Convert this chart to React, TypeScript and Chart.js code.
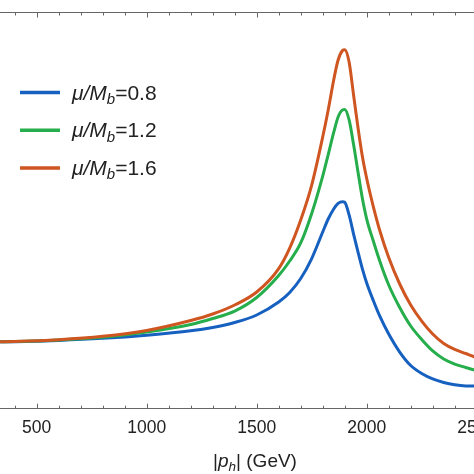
import { useEffect, useRef } from "react";
import Chart from "chart.js/auto";

// |p_h| in GeV
const momenta = [
  333, 400, 600, 800, 1000, 1200, 1300, 1400, 1500, 1600, 1650, 1700, 1750,
  1800, 1825, 1850, 1870, 1890, 1900, 1920, 1940, 1960, 1980, 2000, 2030,
  2060, 2100, 2150, 2200, 2250, 2300, 2350, 2400, 2450, 2500, 2600, 2670,
];

// arbitrary units
const muOver08 = [
  0.676, 0.677, 0.689, 0.71, 0.742, 0.786, 0.82, 0.87, 0.946, 1.077, 1.173,
  1.314, 1.516, 1.784, 1.915, 2.016, 2.072, 2.09, 2.084, 1.956, 1.766, 1.586,
  1.414, 1.269, 1.092, 0.931, 0.754, 0.572, 0.436, 0.355, 0.3, 0.264, 0.241,
  0.23, 0.229, 0.234, 0.241,
];
const muOver12 = [
  0.676, 0.678, 0.694, 0.721, 0.774, 0.85, 0.911, 0.986, 1.123, 1.345, 1.491,
  1.673, 1.971, 2.349, 2.566, 2.789, 2.945, 3.016, 3.02, 2.915, 2.672, 2.395,
  2.127, 1.915, 1.693, 1.486, 1.249, 1.022, 0.835, 0.699, 0.583, 0.502, 0.451,
  0.416, 0.386, 0.35, 0.33,
];
const muOver16 = [
  0.676, 0.679, 0.697, 0.731, 0.79, 0.89, 0.956, 1.047, 1.178, 1.415, 1.622,
  1.905, 2.258, 2.743, 3.016, 3.319, 3.52, 3.616, 3.625, 3.5, 3.172, 2.844,
  2.551, 2.324, 2.041, 1.794, 1.527, 1.259, 1.047, 0.885, 0.754, 0.658, 0.598,
  0.557, 0.517, 0.471, 0.446,
];

const ratios = ["0.8", "1.2", "1.6"];
const colors = ["#1660c0", "#25ae4b", "#cf5521"];
const tickValues = [500, 1000, 1500, 2000, 2500];

const X_MIN = 333.2;
const X_MAX = 2669.5;
const FONT = "'Liberation Sans', Arial, Helvetica, sans-serif";

type Piece = { t: string; italic?: boolean; size: number; dy?: number };

function drawPieces(ctx: CanvasRenderingContext2D, pieces: Piece[], x: number, y: number, align: "left" | "center") {
  const fontOf = (p: Piece) => `${p.italic ? "italic " : ""}${p.size}px ${FONT}`;
  let width = 0;
  for (const p of pieces) {
    ctx.font = fontOf(p);
    width += ctx.measureText(p.t).width;
  }
  let cx = align === "center" ? x - width / 2 : x;
  for (const p of pieces) {
    ctx.font = fontOf(p);
    ctx.fillText(p.t, cx, y + (p.dy || 0));
    cx += ctx.measureText(p.t).width;
  }
}

const frameTicks = {
  id: "frameTicks",
  afterDraw(chart: any) {
    const ctx = chart.ctx;
    const { top, bottom } = chart.chartArea;
    const xs = chart.scales.x;
    ctx.save();
    ctx.strokeStyle = "#666";
    ctx.lineWidth = 1;
    for (let v = 400; v <= 2600; v += 100) {
      const px = Math.round(xs.getPixelForValue(v)) + 0.5;
      const len = v % 500 === 0 ? 5 : 3;
      ctx.beginPath();
      ctx.moveTo(px, bottom);
      ctx.lineTo(px, bottom - len);
      ctx.moveTo(px, top);
      ctx.lineTo(px, top + len);
      ctx.stroke();
    }
    ctx.restore();
  },
};

const richText = {
  id: "richText",
  afterDraw(chart: any) {
    const ctx = chart.ctx;
    ctx.save();
    ctx.fillStyle = "#222";
    ctx.textBaseline = "alphabetic";

    // legend
    chart.data.datasets.forEach((ds: any, i: number) => {
      const y = 92.5 + i * 37.7;
      ctx.strokeStyle = ds.borderColor;
      ctx.lineWidth = 3.5;
      ctx.beginPath();
      ctx.moveTo(20, y);
      ctx.lineTo(60, y);
      ctx.stroke();
      drawPieces(
        ctx,
        [
          { t: "μ/M", italic: true, size: 21 },
          { t: "b", italic: true, size: 15, dy: 4.5 },
          { t: "=" + ds.ratio, size: 21 },
        ],
        72,
        y + 7,
        "left"
      );
    });

    // x axis title
    drawPieces(
      ctx,
      [
        { t: "|", size: 19 },
        { t: "p", italic: true, size: 19 },
        { t: "h", italic: true, size: 13.5, dy: 4 },
        { t: "| (GeV)", size: 19 },
      ],
      255,
      467,
      "center"
    );
    ctx.restore();
  },
};

export default function App() {
  const canvasRef = useRef<HTMLCanvasElement>(null);

  useEffect(() => {
    if (!canvasRef.current) return;
    const series = [muOver08, muOver12, muOver16];
    const chart = new Chart(canvasRef.current, {
      type: "line",
      data: {
        datasets: series.map((vals, i) => ({
          label: "μ/M_b=" + ratios[i],
          ratio: ratios[i],
          data: momenta.map((x, j) => ({ x, y: vals[j] })),
          borderColor: colors[i],
          borderWidth: 3,
          pointRadius: 0,
          fill: false,
          cubicInterpolationMode: "monotone",
          order: 2 - i,
        })) as any,
      },
      options: {
        animation: false,
        responsive: true,
        maintainAspectRatio: false,
        layout: { padding: 0 },
        events: [],
        plugins: {
          legend: { display: false },
          tooltip: { enabled: false },
        },
        scales: {
          x: {
            type: "linear",
            position: "bottom",
            min: X_MIN,
            max: X_MAX,
            grid: { display: false, drawTicks: false },
            border: { display: true, color: "#666", width: 1 },
            afterBuildTicks: (s: any) => {
              s.ticks = tickValues.map((value) => ({ value }));
            },
            ticks: {
              autoSkip: false,
              maxRotation: 0,
              padding: 9,
              color: "#222",
              font: { family: FONT, size: 17.5 },
              callback: (v: any) => String(v),
            },
            afterFit: (s: any) => {
              s.height = 65.3;
            },
          },
          x2: {
            type: "linear",
            position: "top",
            min: X_MIN,
            max: X_MAX,
            grid: { display: false, drawTicks: false },
            border: { display: true, color: "#666", width: 1 },
            ticks: { display: false },
            afterFit: (s: any) => {
              s.height = 12.5;
            },
          },
          y: {
            display: false,
            min: 0,
            max: 4,
          },
        },
      },
      plugins: [frameTicks, richText],
    });
    return () => {
      chart.destroy();
    };
  }, []);

  return (
    <div
      style={{
        position: "fixed",
        left: 0,
        top: 0,
        width: 474,
        height: 474,
        overflow: "hidden",
        background: "#fff",
      }}
    >
      <div style={{ position: "relative", width: 514, height: 474 }}>
        <canvas ref={canvasRef} />
      </div>
    </div>
  );
}
